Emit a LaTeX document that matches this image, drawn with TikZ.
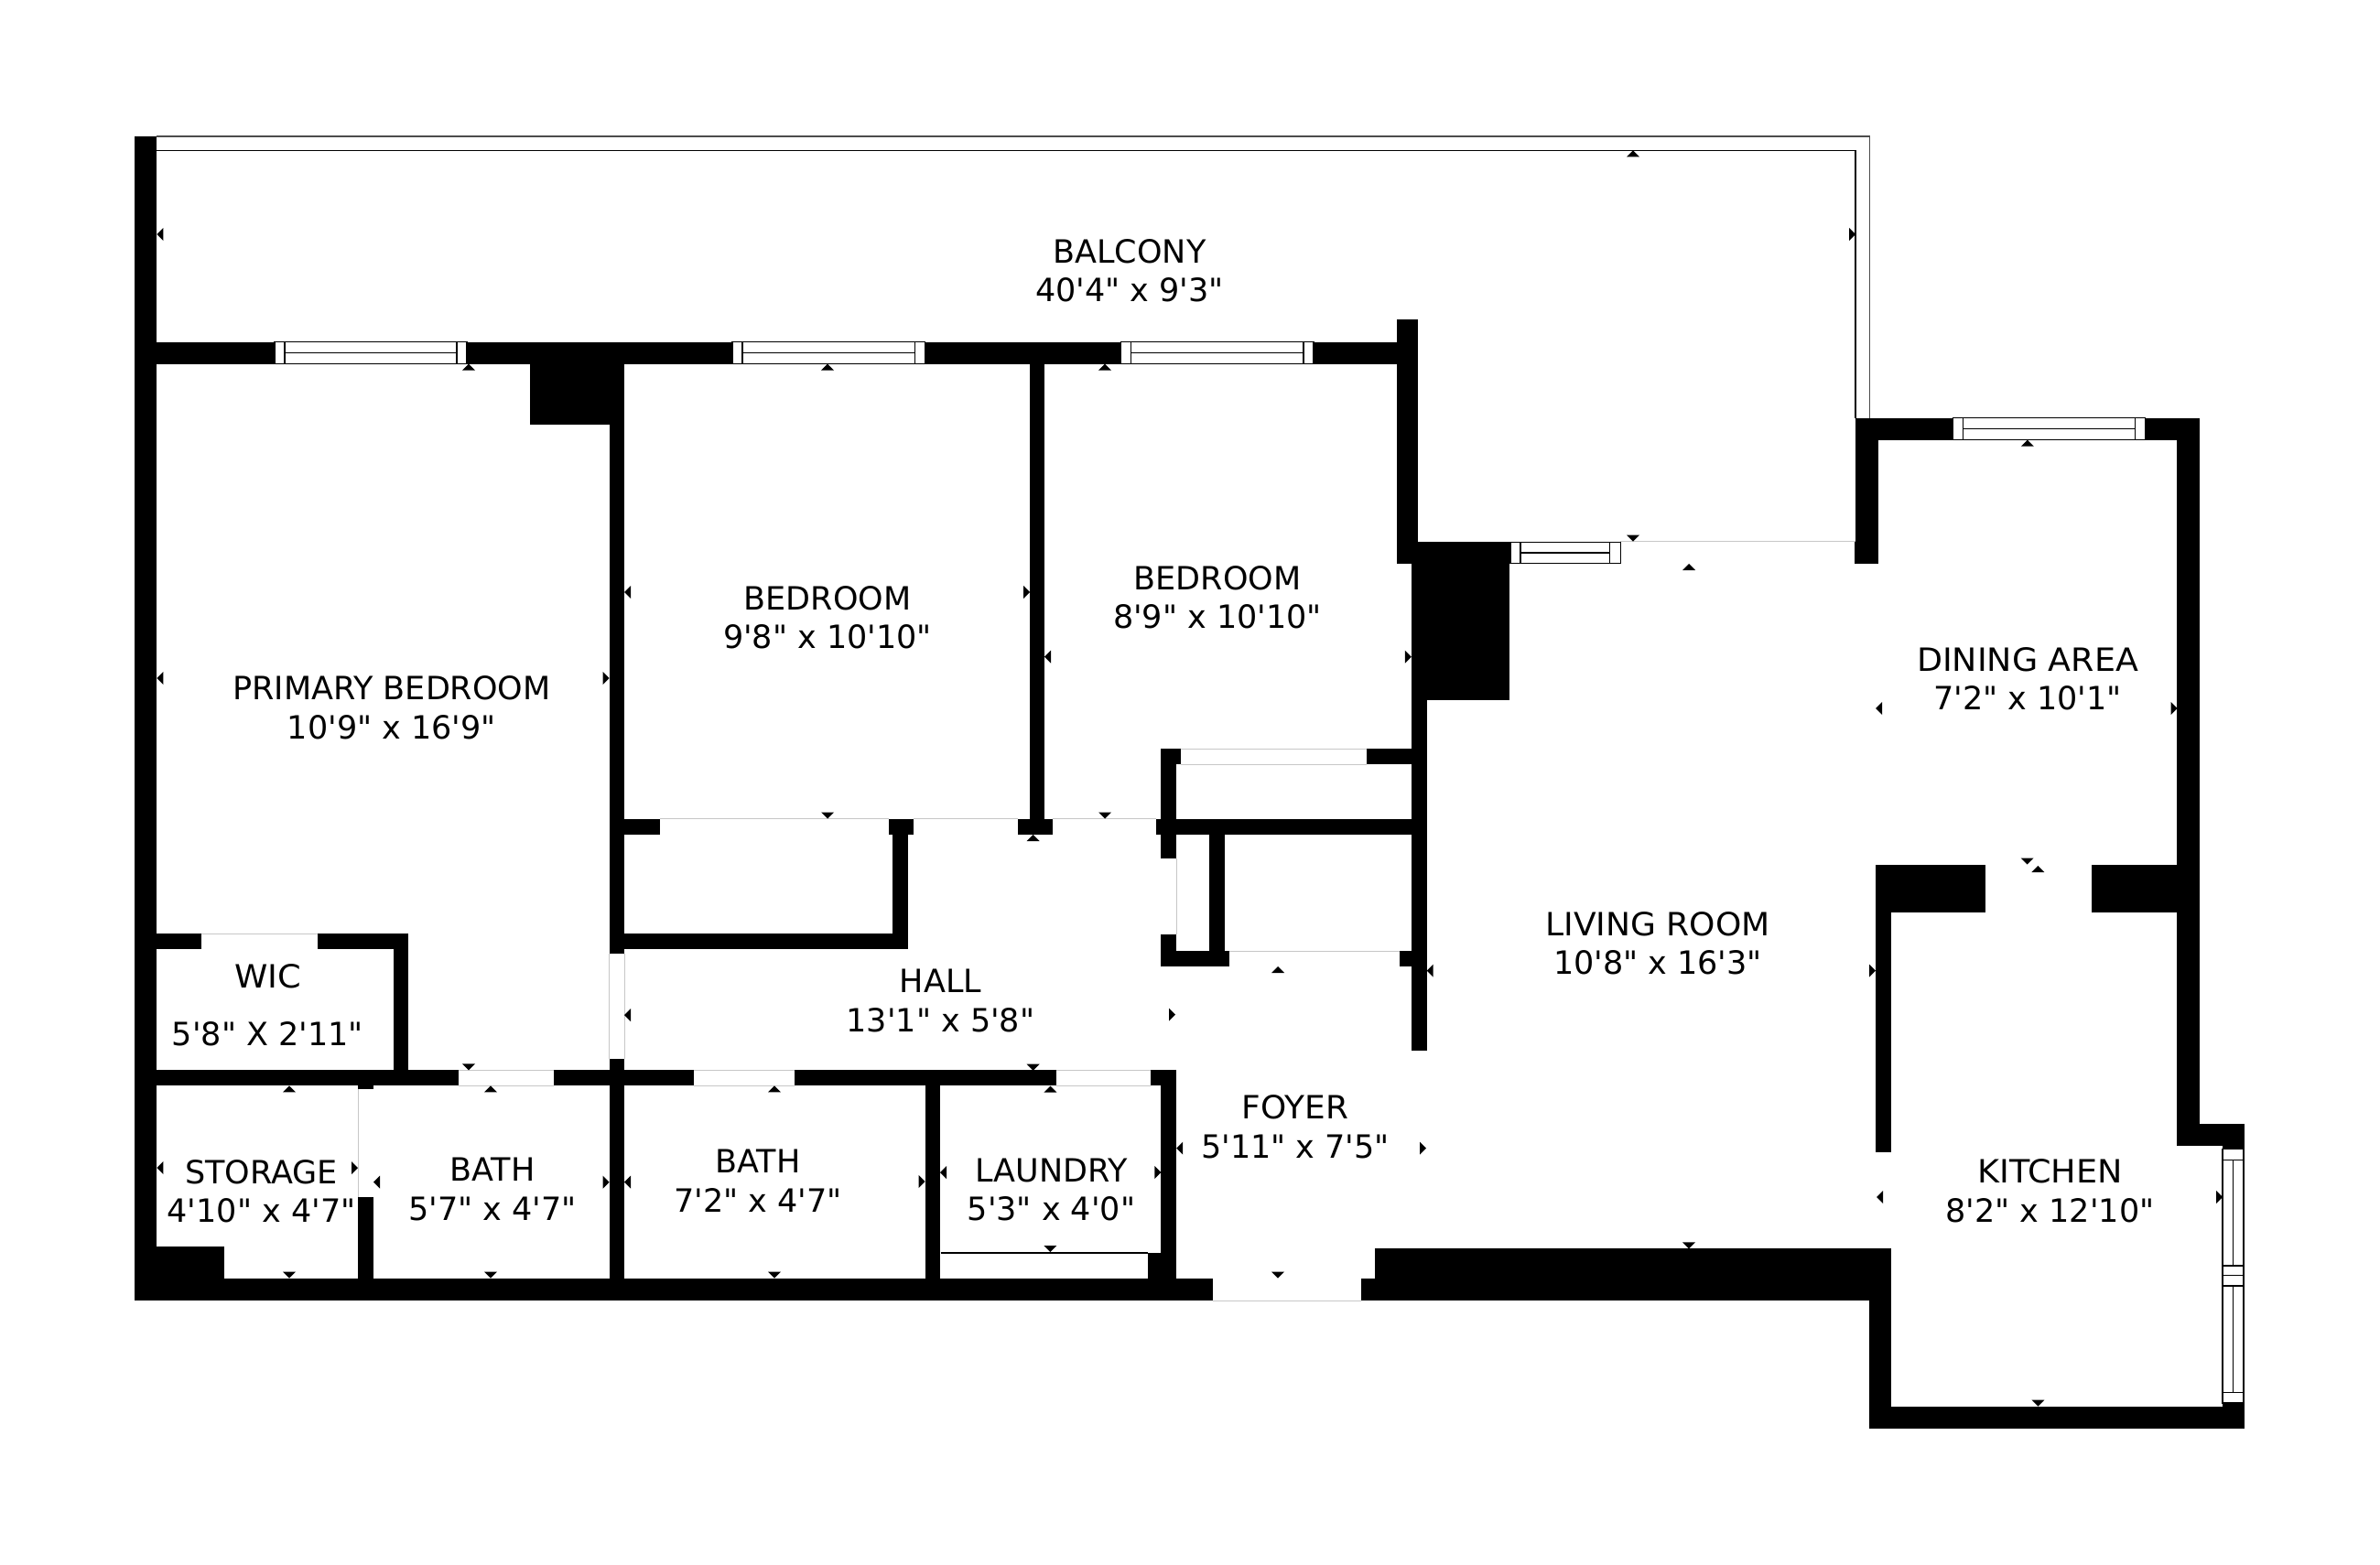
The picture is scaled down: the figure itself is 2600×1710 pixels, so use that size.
\documentclass[tikz,border=0pt]{standalone}
\usepackage{fontspec}
\newfontfamily\roomfont{DejaVu Sans}[Ligatures=ResetAll]
\tikzset{
  wallfill/.style={fill=black},
  glazing/.style={draw=black,line width=1.2pt,fill=white},
  glazeline/.style={draw=black,line width=1.2pt},
  railouter/.style={draw=black!70,line width=1.3pt},
  railinner/.style={draw=black,line width=1.4pt},
  doorline/.style={draw=black!22,line width=1pt},
  roomlabel/.style={font=\roomfont\fontsize{35}{42.5}\selectfont,align=center,inner sep=0pt,outer sep=0pt,text=black},
  widelabel/.style={font=\roomfont\fontsize{35}{63}\selectfont,align=center,inner sep=0pt,outer sep=0pt,text=black},
  tick/.style={fill=black}
}
\def\arrU(#1,#2){\fill[tick] (#1,#2) -- ++(-7,7) -- ++(14,0) -- cycle;}
\def\arrD(#1,#2){\fill[tick] (#1,#2) -- ++(-7,-7) -- ++(14,0) -- cycle;}
\def\arrL(#1,#2){\fill[tick] (#1,#2) -- ++(7,-7) -- ++(0,14) -- cycle;}
\def\arrR(#1,#2){\fill[tick] (#1,#2) -- ++(-7,-7) -- ++(0,14) -- cycle;}
\begin{document}
\begin{tikzpicture}[x=1pt,y=-1pt]
\useasboundingbox (0,0) rectangle (2600,1710);
\fill[white] (0,0) rectangle (2600,1710);

% balcony railing
\draw[railouter] (171.3,149) -- (2042.3,149) -- (2042.3,456.7);
\draw[railinner] (171.3,164.3) -- (2027,164.3) -- (2027,456.7);

% walls
\foreach \a/\b/\c/\d in {
 147.3/149/171.3/1421,
 171.3/373.7/300/397.7, 510/373.7/800/397.7, 1010.7/373.7/1224.5/397.7, 1435/373.7/1525.5/397.7,
 579/397.7/682/464.3, 665.7/464.3/682/1042,
 1125/397.7/1141/895, 1112/894.5/1149.5/912,
 1525.5/349.3/1549/616, 1541.8/616/1558.7/1147.8, 1541.8/591.7/1649/765,
 1268.4/818.3/1290.3/835, 1493/818.3/1541.8/835,
 1268.4/835/1285.2/937.8, 1263/894.5/1558.7/912,
 1321.4/912/1337.8/1039, 1268.4/1020.7/1285.2/1056, 1268.4/1039/1343/1056,
 1528.6/1039/1541.8/1056,
 682/894.5/721/912,
 971/894.5/998/912, 975/912/991.8/1037, 682/1020.3/991.8/1037,
 171.3/1020/219.8/1037, 347.3/1020/446.3/1037, 430/1037/446.3/1169.3,
 665.7/1157.3/682/1421,
 171.3/1169.3/501.4/1186.3, 604.5/1169.3/758/1186.3, 868.3/1169.3/1153.6/1186.3, 1256.6/1169.3/1285.2/1186.3,
 391/1186/408/1190, 391/1308/408/1421,
 171.3/1362.3/245.3/1421,
 147.3/1396.7/1325/1421,
 1010.7/1186.3/1027/1396.7, 1268.4/1186.3/1285.2/1396.7, 1253.6/1369/1285.2/1396.7,
 1486.7/1396.6/2066/1421, 1502/1364.3/2066/1421,
 2041.6/1421/2066/1560.7, 2041.6/1536.6/2452/1560.7, 2428/1533/2452/1536.6,
 2378.4/1228/2403/1252, 2378.4/1228/2452/1252, 2428/1252/2452/1255.8,
 2378.4/480.7/2403/1252,
 2027/456.7/2133.7/480.7, 2343.4/456.7/2403/480.7,
 2027/480.7/2052/616, 2025.5/591.7/2052/616,
 2049/944.6/2169/997, 2049/997/2066/1258.5,
 2284.6/944.6/2378.4/997
}{\fill[wallfill] (\a,\b) rectangle (\c,\d);}

% door openings, faint edges
\foreach \a/\b/\c/\d in {
 219.8/1020/347.3/1020,
 501.4/1169.3/604.5/1169.3, 501.4/1186.3/604.5/1186.3,
 758/1169.3/868.3/1169.3, 758/1186.3/868.3/1186.3,
 1153.6/1169.3/1256.6/1169.3, 1153.6/1186.3/1256.6/1186.3,
 665.7/1042/665.7/1157.3, 682/1042/682/1157.3,
 391/1190/391/1308,
 1290.3/818.3/1493/818.3, 1290.3/835/1493/835,
 1285.2/937.8/1285.2/1020.7,
 1343/1039/1528.6/1039,
 721/894.5/971/894.5, 998/894.5/1112/894.5, 1149.5/894.5/1263/894.5,
 1325/1421/1486.7/1421,
 1770.4/591.7/2027/591.7
}{\draw[doorline] (\a,\b) -- (\c,\d);}

% laundry shelf
\draw[glazeline] (1027.5,1369) -- (1253.6,1369);

% windows in horizontal walls
\foreach \a/\b/\c/\m in {
 300/373.7/510/385.7, 800/373.7/1010.7/385.7, 1224.5/373.7/1435/385.7,
 2133.7/456.7/2343.4/468.7
}{
  \draw[glazing] (\a,\b) rectangle (\c,\b+24);
  \draw[glazeline] (\a+11,\b) -- (\a+11,\b+24);
  \draw[glazeline] (\c-11,\b) -- (\c-11,\b+24);
  \draw[glazeline] (\a+11,\m) -- (\c-11,\m);
}
\draw[glazing] (1650,592.3) rectangle (1770.4,615.7);
\draw[glazeline] (1661,592.3) -- (1661,615.7);
\draw[glazeline] (1758.7,592.3) -- (1758.7,615.7);
\draw[glazeline] (1661,604) -- (1758.7,604);

% kitchen window
\draw[glazing] (2428,1255.8) rectangle (2451,1533);
\foreach \m in {1267.4,1383,1393.7,1405,1521.4}{\draw[glazeline] (2428,\m) -- (2451,\m);}
\draw[glazeline] (2439.6,1267.4) -- (2439.6,1383);
\draw[glazeline] (2439.6,1405) -- (2439.6,1521.4);

% dimension ticks
\foreach \x/\y in {512/397.7,904/397.7,1207/397.7,1784/164.3,1845/616,2214.8/480.7,
 2226.4/946,1128.6/912,1396/1056,316/1186.3,536/1186.3,846/1186.3,1147.4/1186.6}{\arrU(\x,\y)}
\foreach \x/\y in {512/1169.3,904/894.5,1207/894.5,1784/591.7,1845/1364.3,2214.6/944.6,
 2226.4/1536.6,1128.6/1169.7,1396/1396.6,316/1396.7,536/1396.7,846/1396.7,1147.4/1368}{\arrD(\x,\y)}
\foreach \x/\y in {171.3/256,171.3/741,682/647,1141/717.7,682/1109,1558.7/1060.7,2049/774,
 2050/1308,171.3/1276,408/1291.7,682/1291.7,1027/1281,1285.2/1254.7}{\arrL(\x,\y)}
\foreach \x/\y in {2027/256,665.7/741,1125/647,1541.8/717.7,1284/1108.7,2049/1060.7,2378.6/774,
 2428/1308,391/1276,665.7/1291.7,1010.7/1291,1268.4/1281,1558/1254.7}{\arrR(\x,\y)}

% room labels
\node[roomlabel] (balcony) at (1234,296) {BALCONY\\40'4" x 9'3"};
\node[roomlabel] (primary) at (428,773.5) {PRIMARY BEDROOM\\10'9" x 16'9"};
\node[roomlabel] (bedone) at (904,675) {BEDROOM\\9'8" x 10'10"};
\node[roomlabel] (bedtwo) at (1330,653) {BEDROOM\\8'9" x 10'10"};
\node[roomlabel] (hall) at (1027.5,1093.5) {HALL\\13'1" x 5'8"};
\node[roomlabel] (living) at (1811,1030.5) {\scalebox{1.03}[1]{LIVING ROOM}\\10'8" x 16'3"};
\node[roomlabel] (dining) at (2215,742) {\scalebox{1.04}[1]{DINING AREA}\\7'2" x 10'1"};
\node[widelabel] (wic) at (292.5,1098) {\scalebox{1.05}[1]{WIC}\\5'8" X 2'11"};
\node[roomlabel] (storage) at (285.6,1301.5) {STORAGE\\4'10" x 4'7"};
\node[roomlabel] (bathone) at (538,1299.5) {BATH\\5'7" x 4'7"};
\node[roomlabel] (bathtwo) at (828,1290) {BATH\\7'2" x 4'7"};
\node[roomlabel] (laundry) at (1148.5,1300) {LAUNDRY\\5'3" x 4'0"};
\node[roomlabel] (foyer) at (1415,1231) {\scalebox{1.025}[1]{FOYER}\\5'11" x 7'5"};
\node[roomlabel] (kitchen) at (2239.5,1301) {\scalebox{1.045}[1]{KITCHEN}\\8'2" x 12'10"};
\end{tikzpicture}
\end{document}
